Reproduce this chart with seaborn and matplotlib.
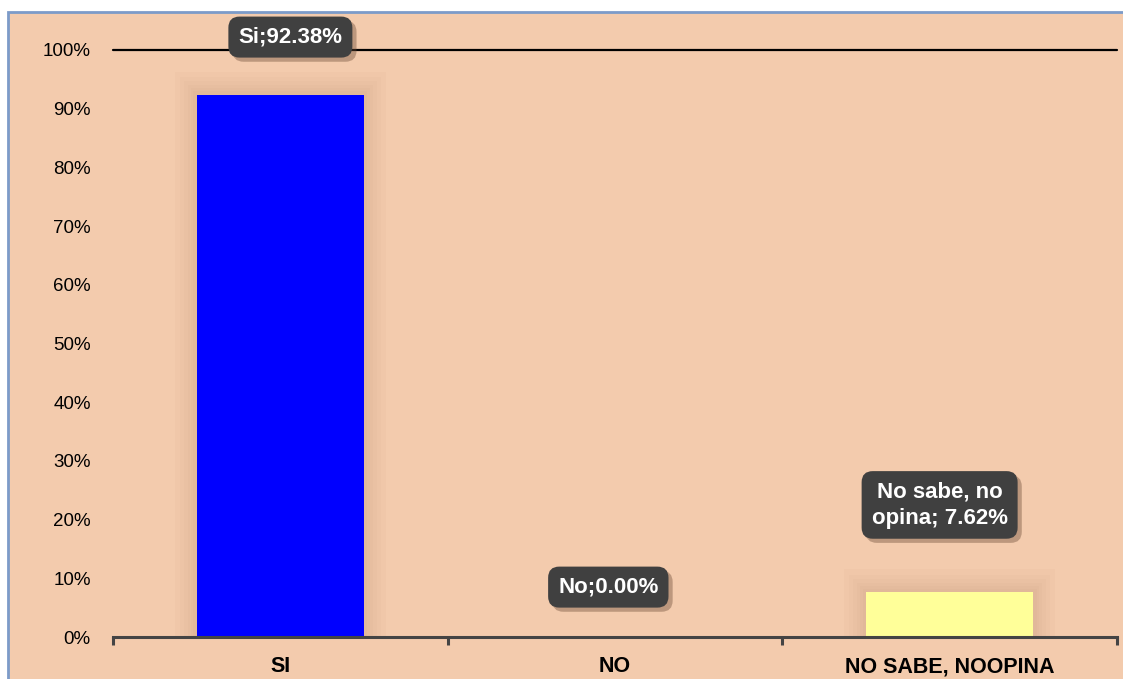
import matplotlib
matplotlib.use("Agg")
import matplotlib.pyplot as plt
import matplotlib.patheffects as pe
from matplotlib.patches import Rectangle
from matplotlib.ticker import FixedLocator, PercentFormatter
import seaborn as sns
import pandas as pd

categories = ["SI", "NO", "NO SABE, NOOPINA"]
values = [92.38, 0.00, 7.62]
bar_colors = ["#0000FF", "#F3CBAD", "#FFFF99"]
point_labels = ["Si;92.38%", "No;0.00%", "No sabe, no\nopina; 7.62%"]
y_ticks = [0, 10, 20, 30, 40, 50, 60, 70, 80, 90, 100]

sns.set_theme(style="white")
plt.rcParams["font.family"] = ["Liberation Sans", "DejaVu Sans"]

W, H = 1123, 679
fig = plt.figure(figsize=(W / 100, H / 100), dpi=100, facecolor="white")

# peach chart area with a thin blue border on the top and left
peach = "#F3CBAD"
fig.patches.append(Rectangle((8 / W, -0.01), 1.02 - 8 / W, 1 - 12 / H + 0.01,
                             transform=fig.transFigure, facecolor=peach,
                             edgecolor="#7C9BC9", linewidth=2, zorder=-10))

ax = fig.add_axes([113 / W, 1 - 637 / H, (1117 - 113) / W, (637 - 50) / H])
ax.set_facecolor("none")
ax.set_zorder(1)

df = pd.DataFrame({"cat": categories, "val": values})

# faint soft glow around each bar
for i, v in enumerate(values):
    if v <= 0:
        continue
    for k in [0.065, 0.05, 0.038, 0.027, 0.018, 0.01]:
        ax.add_patch(Rectangle((i - 0.25 - k, 0), 0.5 + 2 * k, v + k * 60,
                               facecolor="#9A6A4A", edgecolor="none", alpha=0.03, zorder=1))

sns.barplot(data=df, x="cat", y="val", hue="cat", palette=bar_colors, legend=False,
            width=0.5, saturation=1, ax=ax, zorder=3, edgecolor="none")

ax.set_xlim(-0.5, 2.5)
ax.set_ylim(0, 100)
ax.set_xlabel("")
ax.set_ylabel("")

# reference line at 100%
ax.axhline(100, color="black", linewidth=1.6, zorder=2, clip_on=False)

for side in ["top", "right", "left"]:
    ax.spines[side].set_visible(False)
ax.spines["bottom"].set_color("#444444")
ax.spines["bottom"].set_linewidth(2.2)
ax.spines["bottom"].set_zorder(4)

ax.yaxis.set_major_locator(FixedLocator(y_ticks))
ax.yaxis.set_major_formatter(PercentFormatter(decimals=0))
ax.tick_params(axis="y", length=0, pad=16, labelsize=13.5, labelcolor="black")

ax.xaxis.set_minor_locator(FixedLocator([-0.5, 0.5, 1.5, 2.5]))
ax.tick_params(axis="x", which="major", length=0, pad=14, labelsize=15.5, labelcolor="black")
ax.tick_params(axis="x", which="minor", bottom=True, length=6, width=2.2, color="#444444", direction="out")
for lab in ax.get_xticklabels():
    lab.set_fontweight("bold")

# value callouts
label_pos = [(0.03, 102.2), (-0.02, 8.5), (-0.03, 22.5)]
for i, (txt, (dx, y)) in enumerate(zip(point_labels, label_pos)):
    t = ax.text(i + dx, y, txt, ha="center", va="center", color="white",
                fontsize=16, fontweight="bold", zorder=6, clip_on=False,
                linespacing=1.35,
                bbox=dict(boxstyle="round,pad=0.45,rounding_size=0.5",
                          facecolor="#404040", edgecolor="none"))
    t.get_bbox_patch().set_path_effects([
        pe.SimplePatchShadow(offset=(3, -3), shadow_rgbFace="#6B4A35", alpha=0.4),
        pe.Normal()])

fig.savefig("out.png", dpi=100, facecolor="white")
